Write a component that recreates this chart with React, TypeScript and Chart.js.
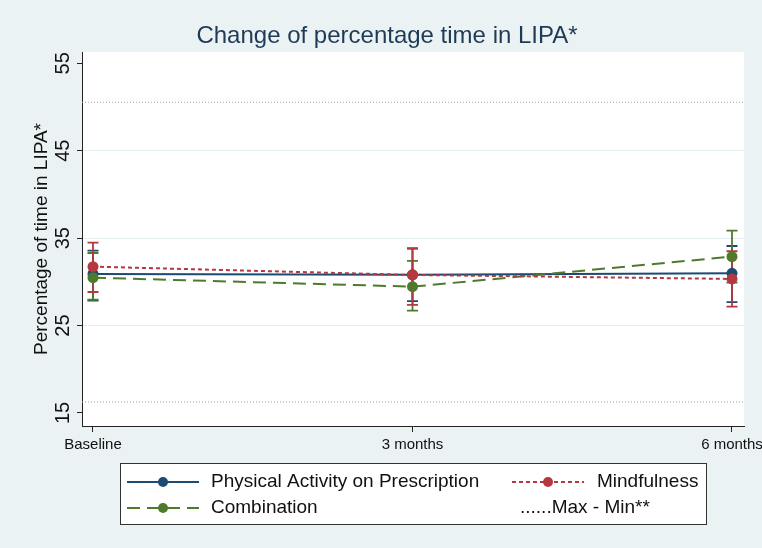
import React, { useEffect, useRef } from "react";
import { Chart, registerables } from "chart.js";
Chart.register(...registerables);

const categories = ["Baseline", "3 months", "6 months"];
const timePoints = [0, 1, 2];
const papMean = [30.9, 30.8, 30.98];
const papLow = [27.85, 27.8, 27.67];
const papHigh = [33.57, 33.8, 34.1];
const mindMean = [31.74, 30.79, 30.33];
const mindLow = [28.84, 27.36, 27.16];
const mindHigh = [34.49, 33.84, 33.5];
const combMean = [30.48, 29.45, 32.88];
const combLow = [27.95, 26.7, 29.9];
const combHigh = [33.3, 32.39, 35.86];
const maxMinValues = [50.54, 16.26];
const yTickValues = [15, 25, 35, 45, 55];
const gridValues = [25, 35, 45];
const titleText = "Change of percentage time in LIPA*";

const BLUE = "#1b4a73";
const RED = "#b5373f";
const GREEN = "#4f7a2c";
const BG = "#eaf2f3";
const FONT = "'Liberation Sans', Arial, sans-serif";
const X_MIN = -0.0344;
const X_MAX = 2.0376;

const backgroundPlugin = {
  id: "bgPlugin",
  beforeDraw(chart: any) {
    const { ctx, chartArea } = chart;
    ctx.save();
    ctx.fillStyle = BG;
    ctx.fillRect(0, 0, chart.width, chart.height);
    ctx.fillStyle = "#ffffff";
    ctx.fillRect(chartArea.left, chartArea.top, chartArea.right - chartArea.left, chartArea.bottom - chartArea.top);
    ctx.fillStyle = "#1f3a56";
    ctx.font = `24px ${FONT}`;
    ctx.textAlign = "center";
    ctx.textBaseline = "middle";
    ctx.fillText(titleText, 387, 36);
    ctx.restore();
  },
};

const errorBarPlugin = {
  id: "errorBars",
  beforeDatasetsDraw(chart: any) {
    const { ctx } = chart;
    const xs = chart.scales.x;
    const ys = chart.scales.y;
    const sets: [number[], number[], string][] = [
      [papLow, papHigh, BLUE],
      [combLow, combHigh, GREEN],
      [mindLow, mindHigh, RED],
    ];
    ctx.save();
    ctx.lineWidth = 1.8;
    for (const [low, high, color] of sets) {
      ctx.strokeStyle = color;
      timePoints.forEach((t, i) => {
        const px = xs.getPixelForValue(t);
        const yl = ys.getPixelForValue(low[i]);
        const yh = ys.getPixelForValue(high[i]);
        ctx.beginPath();
        ctx.moveTo(px, yl);
        ctx.lineTo(px, yh);
        ctx.moveTo(px - 5.5, yl);
        ctx.lineTo(px + 5.5, yl);
        ctx.moveTo(px - 5.5, yh);
        ctx.lineTo(px + 5.5, yh);
        ctx.stroke();
      });
    }
    ctx.restore();
  },
};

const legendPlugin = {
  id: "customLegend",
  afterDraw(chart: any) {
    const { ctx } = chart;
    ctx.save();
    const bx = 120, by = 463, bw = 586, bh = 61;
    ctx.fillStyle = "#ffffff";
    ctx.fillRect(bx, by, bw, bh);
    ctx.strokeStyle = "#333333";
    ctx.lineWidth = 1;
    ctx.strokeRect(bx + 0.5, by + 0.5, bw, bh);

    const row1 = 482;
    const row2 = 508;
    const drawKey = (x0: number, x1: number, y: number, color: string, dash: number[]) => {
      ctx.strokeStyle = color;
      ctx.lineWidth = 2;
      ctx.setLineDash(dash);
      ctx.beginPath();
      ctx.moveTo(x0, y);
      ctx.lineTo(x1, y);
      ctx.stroke();
      ctx.setLineDash([]);
      ctx.fillStyle = color;
      ctx.beginPath();
      ctx.arc((x0 + x1) / 2, y, 5, 0, Math.PI * 2);
      ctx.fill();
    };
    drawKey(127, 199, row1, BLUE, []);
    drawKey(512, 584, row1, RED, [4, 3]);
    drawKey(127, 199, row2, GREEN, [13, 7]);

    ctx.fillStyle = "#111111";
    ctx.font = `19px ${FONT}`;
    ctx.textBaseline = "middle";
    ctx.textAlign = "left";
    ctx.fillText("Physical Activity on Prescription", 211, row1);
    ctx.fillText("Mindfulness", 597, row1);
    ctx.fillText("Combination", 211, row2);
    ctx.fillText("......Max - Min**", 520, row2);
    ctx.restore();
  },
};

const pts = (vals: number[]) => timePoints.map((t, i) => ({ x: t, y: vals[i] }));

export default function App() {
  const ref = useRef<HTMLCanvasElement | null>(null);
  useEffect(() => {
    document.body.style.margin = "0";
    const canvas = ref.current;
    if (!canvas) return;
    const chart = new Chart(canvas, {
      type: "line",
      data: {
        datasets: [
          {
            label: "Physical Activity on Prescription",
            data: pts(papMean),
            borderColor: BLUE,
            backgroundColor: BLUE,
            borderWidth: 2,
            pointRadius: 5.5,
            pointBorderWidth: 0,
            order: 2,
          },
          {
            label: "Mindfulness",
            data: pts(mindMean),
            borderColor: RED,
            backgroundColor: RED,
            borderWidth: 2,
            borderDash: [4, 3],
            pointRadius: 5.5,
            pointBorderWidth: 0,
            order: 0,
          },
          {
            label: "Combination",
            data: pts(combMean),
            borderColor: GREEN,
            backgroundColor: GREEN,
            borderWidth: 2,
            borderDash: [13, 7],
            pointRadius: 5.5,
            pointBorderWidth: 0,
            order: 1,
          },
          {
            label: "Max",
            data: [
              { x: X_MIN, y: maxMinValues[0] },
              { x: X_MAX, y: maxMinValues[0] },
            ],
            borderColor: "#a0a0a0",
            borderWidth: 1,
            borderDash: [1, 2],
            pointRadius: 0,
            order: 3,
          },
          {
            label: "Min",
            data: [
              { x: X_MIN, y: maxMinValues[1] },
              { x: X_MAX, y: maxMinValues[1] },
            ],
            borderColor: "#a0a0a0",
            borderWidth: 1,
            borderDash: [1, 2],
            pointRadius: 0,
            order: 3,
          },
        ],
      },
      options: {
        animation: false,
        responsive: false,
        devicePixelRatio: 1,
        layout: { padding: { left: 0, right: 18, top: 52, bottom: 0 } },
        plugins: {
          legend: { display: false },
          tooltip: { enabled: false },
          title: { display: false },
        },
        scales: {
          x: {
            type: "linear",
            min: X_MIN,
            max: X_MAX,
            afterBuildTicks: (scale: any) => {
              scale.ticks = timePoints.map((v) => ({ value: v }));
            },
            afterFit: (scale: any) => {
              scale.height = 122;
              scale.paddingLeft = 0;
              scale.paddingRight = 0;
            },
            ticks: {
              autoSkip: false,
              maxRotation: 0,
              minRotation: 0,
              padding: 4,
              color: "#111111",
              font: { family: FONT, size: 15 },
              callback: (v: any) => categories[timePoints.indexOf(Number(v))] ?? "",
            },
            grid: {
              drawOnChartArea: false,
              tickLength: 6,
              tickColor: "#222222",
            },
            border: { display: true, color: "#222222", width: 1 },
          },
          y: {
            type: "linear",
            min: 13.51,
            max: 56.29,
            afterBuildTicks: (scale: any) => {
              scale.ticks = yTickValues.map((v) => ({ value: v }));
            },
            afterFit: (scale: any) => {
              scale.width = 82;
              scale.paddingTop = 0;
              scale.paddingBottom = 0;
            },
            ticks: {
              autoSkip: false,
              minRotation: 90,
              maxRotation: 90,
              crossAlign: "center",
              padding: 2,
              color: "#111111",
              font: { family: FONT, size: 20 },
            },
            grid: {
              color: (c: any) => (c.tick && gridValues.includes(c.tick.value) ? "#e3edf0" : "rgba(0,0,0,0)"),
              lineWidth: 1,
              tickLength: 5,
              tickColor: "#222222",
            },
            border: { display: true, color: "#222222", width: 1 },
            title: {
              display: true,
              text: "Percentage of time in LIPA*",
              color: "#111111",
              font: { family: FONT, size: 19 },
              padding: { top: 30.6, bottom: 0 },
            },
          },
        },
      },
      plugins: [backgroundPlugin, errorBarPlugin, legendPlugin],
    } as any);
    return () => chart.destroy();
  }, []);
  return (
    <div style={{ width: 762, height: 548 }}>
      <canvas ref={ref} width={762} height={548} />
    </div>
  );
}
